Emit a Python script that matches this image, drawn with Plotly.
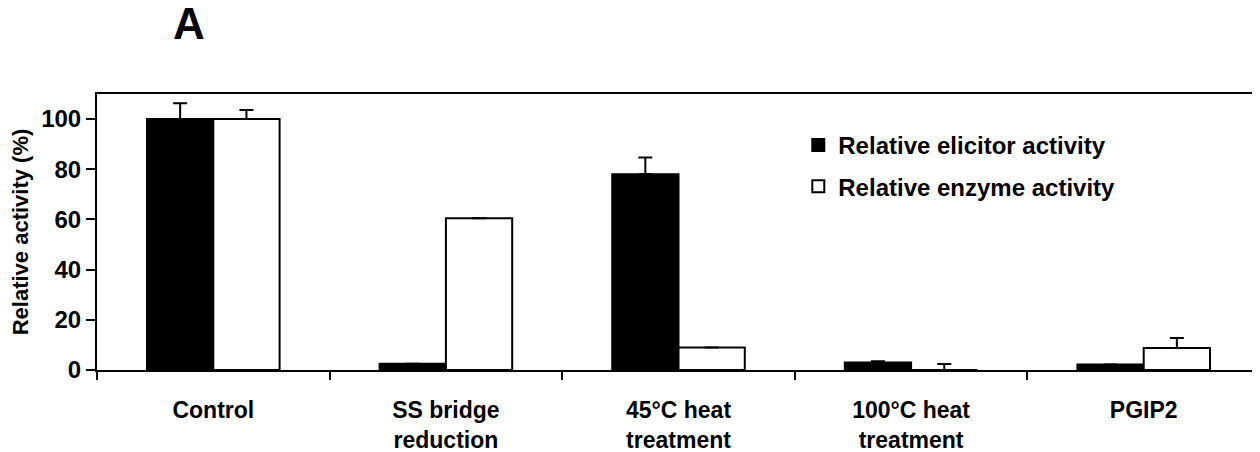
import plotly.graph_objects as go

categories = ["Control", "SS bridge<br>reduction", "45°C heat<br>treatment",
              "100°C heat<br>treatment", "PGIP2"]
elicitor = [100, 2.5, 78, 3, 2.2]
elicitor_err = [6.3, None, 6.7, 0.5, None]
enzyme = [100, 60.5, 9, 0, 8.8]
enzyme_err = [3.6, None, None, 2.4, 4]
y_ticks = [0, 20, 40, 60, 80, 100]

FONT = "Liberation Sans, Arial, sans-serif"

fig = go.Figure()
fig.add_trace(go.Bar(
    x=categories, y=elicitor, name="Relative elicitor activity",
    legendgroup="a",
    marker=dict(color="black", line=dict(color="black", width=2)),
    error_y=dict(type="data", symmetric=False, array=elicitor_err,
                 arrayminus=[0] * len(elicitor_err), color="black",
                 thickness=2, width=7),
))
fig.add_trace(go.Bar(
    x=categories, y=enzyme, name="Relative enzyme activity",
    legendgroup="b",
    marker=dict(color="white", line=dict(color="black", width=2)),
    error_y=dict(type="data", symmetric=False, array=enzyme_err,
                 arrayminus=[0] * len(enzyme_err), color="black",
                 thickness=2, width=7),
))

# page body has an 8px margin, so the figure is sized/offset to compensate
fig.update_layout(
    width=1252, height=444,
    margin=dict(l=89, r=0, t=86, b=82),
    paper_bgcolor="white", plot_bgcolor="white",
    barmode="group", bargap=0.43, bargroupgap=0,
    font=dict(family=FONT, color="black", size=22, weight="bold"),
    legend=dict(x=0.603, y=0.895, xanchor="left", yanchor="top",
                bgcolor="rgba(0,0,0,0)", font=dict(size=24, weight="bold"),
                traceorder="grouped", tracegroupgap=7),
    xaxis=dict(
        showline=True, linecolor="black", linewidth=2, mirror=True,
        ticks="outside", ticklen=8, tickwidth=2, tickcolor="black",
        tickson="boundaries", tickfont=dict(size=23, weight="bold"),
        ticklabelstandoff=18, showgrid=False, fixedrange=True,
        automargin=False,
    ),
    yaxis=dict(
        range=[0, 110], tickvals=y_ticks,
        showline=True, linecolor="black", linewidth=2, mirror=False,
        ticks="outside", ticklen=9, tickwidth=2, tickcolor="black",
        tickfont=dict(size=24, weight="bold"), showgrid=False, zeroline=False,
        automargin=False,
        title=dict(text="Relative activity (%)", font=dict(size=22, weight="bold"),
                   standoff=6),
    ),
    annotations=[dict(text="A", x=0.079, y=1.257, xref="paper", yref="paper",
                      showarrow=False, font=dict(size=44, weight="bold"),
                      xanchor="center", yanchor="middle")],
    shapes=[dict(type="line", xref="paper", yref="paper", x0=0.9995, x1=0.9995,
                 y0=0, y1=0.87, line=dict(color="#cccccc", width=1))],
)

fig.write_html("out.html")
